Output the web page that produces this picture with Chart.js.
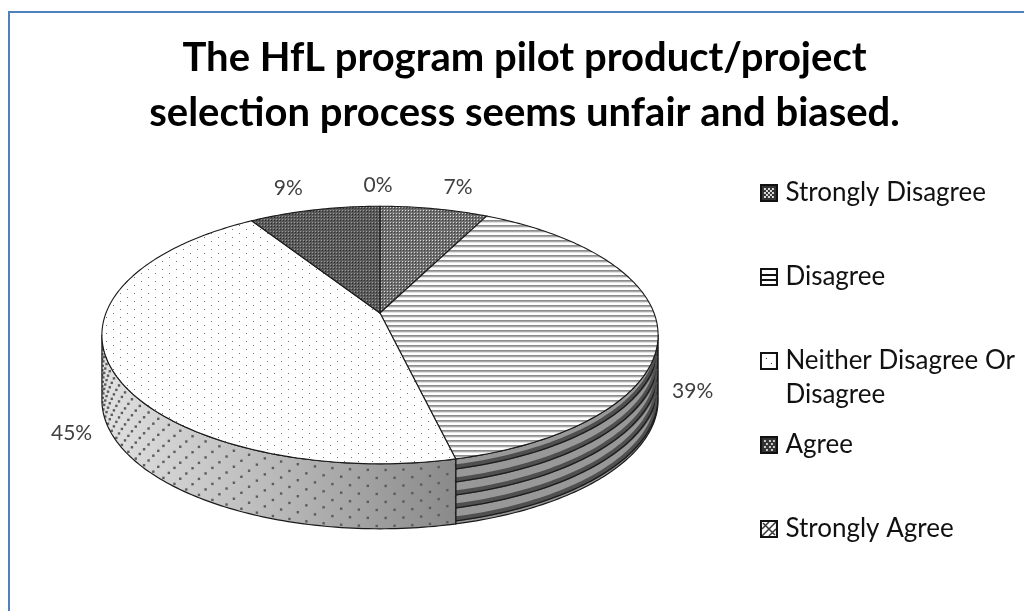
<!DOCTYPE html>
<html>
<head>
<meta charset="utf-8">
<style>
  html, body { margin: 0; background: #fff; overflow: hidden; width: 1024px; height: 611px; }
  #frame { position: absolute; left: 8px; top: 11px; width: 1100px; height: 700px; border: 2px solid #4f81bd; }
  #demandPie { position: absolute; left: 0; top: 0; filter: blur(0.35px); }
</style>
</head>
<body>
<div id="frame"></div>
<canvas id="demandPie" width="1048" height="691"></canvas>
<script src="https://cdn.jsdelivr.net/npm/chart.js@4"></script>
<script>
const titleLines = ['The HfL program pilot product/project', 'selection process seems unfair and biased.'];
const categories = ['Strongly Disagree', 'Disagree', 'Neither Disagree Or', 'Agree', 'Strongly Agree'];
const wrappedCategory = 'Disagree'; // second line of the third legend entry
const percents = [7.4, 38.9, 44.7, 9, 0];

// --- tilted disc: the reference is a 3D pie seen in perspective ---
const CX = 380, CY = 313, RX = 274, RY = 125, TILT = -0.171, DEPTH = 65;

function rim(angle) {
  const u = Math.cos(angle), v = Math.sin(angle);
  const d = 1 + TILT * v;
  return { x: CX + RX * u / d, y: CY + RY * v / d };
}

function tile(w, h, paint) {
  const c = document.createElement('canvas');
  c.width = w; c.height = h;
  paint(c.getContext('2d'));
  return c;
}

function dotsAt(g, list, color, size) {
  g.fillStyle = color;
  list.forEach(p => g.fillRect(p[0], p[1], size, size));
}

const checkTile = tile(3, 3, g => {
  g.fillStyle = '#6f6f6f'; g.fillRect(0, 0, 3, 3);
  dotsAt(g, [[0, 0]], '#d8d8d8', 1);
  dotsAt(g, [[1, 1]], '#3c3c3c', 1);
});
const darkTile = tile(3, 3, g => {
  g.fillStyle = '#5a5a5a'; g.fillRect(0, 0, 3, 3);
  dotsAt(g, [[0, 0]], '#9a9a9a', 1);
  dotsAt(g, [[1, 1]], '#2c2c2c', 1);
});
const stripeTile = tile(4, 5, g => {
  g.fillStyle = '#fff'; g.fillRect(0, 0, 4, 5);
  g.fillStyle = '#8c8c8c'; g.fillRect(0, 0, 4, 1);
  g.fillStyle = '#a8a8a8'; g.fillRect(0, 1, 4, 1);
  g.fillStyle = '#e2e2e2'; g.fillRect(0, 2, 4, 1);
});
const dotTile = tile(14, 8, g => {
  g.fillStyle = '#fff'; g.fillRect(0, 0, 14, 8);
  dotsAt(g, [[1, 1], [8, 5]], '#767676', 1);
});

const ctxHelper = document.createElement('canvas').getContext('2d');
const topFills = [
  ctxHelper.createPattern(checkTile, 'repeat'),
  ctxHelper.createPattern(stripeTile, 'repeat'),
  ctxHelper.createPattern(dotTile, 'repeat'),
  ctxHelper.createPattern(darkTile, 'repeat'),
  '#fff'
];

function swatch(paint) {
  return tile(18, 18, g => {
    g.fillStyle = '#fff'; g.fillRect(0, 0, 18, 18);
    paint(g);
    g.strokeStyle = '#111'; g.lineWidth = 2; g.strokeRect(1, 1, 16, 16);
  });
}

const legendIcons = [
  swatch(g => { g.fillStyle = '#333'; g.fillRect(0, 0, 18, 18); dotsAt(g, [[4,4],[8,4],[12,4],[6,6],[10,6],[4,8],[8,8],[12,8],[6,10],[10,10],[4,12],[8,12],[12,12]], '#ddd', 2); }),
  swatch(g => { g.fillStyle = '#111'; g.fillRect(2, 6, 14, 2); g.fillRect(2, 11, 14, 2); }),
  swatch(g => { dotsAt(g, [[6, 6], [11, 11]], '#333', 1); }),
  swatch(g => { g.fillStyle = '#333'; g.fillRect(0, 0, 18, 18); dotsAt(g, [[4,4],[9,4],[13,4],[6,7],[11,7],[4,10],[9,10],[13,10],[6,13],[11,13]], '#ccc', 2); }),
  swatch(g => { g.strokeStyle = '#333'; g.lineWidth = 1.5; g.beginPath(); g.moveTo(2, 16); g.lineTo(16, 2); g.moveTo(2, 9); g.lineTo(9, 2); g.moveTo(9, 16); g.lineTo(16, 9); g.moveTo(3, 3); g.lineTo(15, 15); g.stroke(); })
];

// slices keep the angles Chart.js computes, only the outline is projected
Chart.ArcElement.prototype.draw = function (ctx) {
  const { startAngle, endAngle } = this;
  if (endAngle - startAngle < 1e-4) return;
  ctx.save();
  ctx.beginPath();
  ctx.moveTo(CX, CY);
  const n = Math.ceil((endAngle - startAngle) * 60);
  for (let i = 0; i <= n; i++) {
    const p = rim(startAngle + (endAngle - startAngle) * i / n);
    ctx.lineTo(p.x, p.y);
  }
  ctx.closePath();
  ctx.fillStyle = this.options.backgroundColor;
  ctx.fill();
  ctx.strokeStyle = '#1a1a1a';
  ctx.lineWidth = 1.1;
  ctx.stroke();
  ctx.restore();
};

function wallPath(ctx, a0, a1) {
  const n = Math.ceil((a1 - a0) * 60);
  ctx.beginPath();
  for (let i = 0; i <= n; i++) {
    const p = rim(a0 + (a1 - a0) * i / n);
    ctx.lineTo(p.x, p.y);
  }
  for (let i = n; i >= 0; i--) {
    const p = rim(a0 + (a1 - a0) * i / n);
    ctx.lineTo(p.x, p.y + DEPTH);
  }
  ctx.closePath();
}

const wallFrom = 0.17, wallTo = Math.PI - 0.17;

const wallPlugin = {
  id: 'wall',
  beforeDatasetsDraw(chart) {
    const ctx = chart.ctx;
    chart.getDatasetMeta(0).data.forEach((arc, idx) => {
      const a0 = Math.max(arc.startAngle, wallFrom), a1 = Math.min(arc.endAngle, wallTo);
      if (a1 <= a0) return;
      ctx.save();
      wallPath(ctx, a0, a1);
      if (idx === 1) {
        ctx.fillStyle = '#989898';
        ctx.fill();
        ctx.clip();
        for (let off = 8; off < DEPTH; off += 13) {
          [['#505050', 5, 0], ['#1c1c1c', 1.3, 2]].forEach(([color, width, shift]) => {
            ctx.strokeStyle = color;
            ctx.lineWidth = width;
            ctx.beginPath();
            for (let a = a0; a <= a1 + 0.02; a += 0.02) {
              const p = rim(a);
              ctx.lineTo(p.x, p.y + off + shift);
            }
            ctx.stroke();
          });
        }
      } else {
        const grad = ctx.createLinearGradient(105, 0, 455, 0);
        grad.addColorStop(0, '#e0e0e0');
        grad.addColorStop(0.5, '#b8b8b8');
        grad.addColorStop(1, '#8a8a8a');
        ctx.fillStyle = grad;
        ctx.fill();
        ctx.clip();
        ctx.fillStyle = '#5c5c5c';
        for (let row = 0; row < 8; row++) {
          for (let a = a0 + (row % 2) * 0.027; a < a1; a += 0.054) {
            const p = rim(a);
            ctx.fillRect(p.x - 1, p.y + 5 + row * 8, 2.4, 2.4);
          }
        }
      }
      ctx.restore();
      ctx.save();
      wallPath(ctx, a0, a1);
      ctx.strokeStyle = '#1a1a1a';
      ctx.lineWidth = 1.2;
      ctx.stroke();
      ctx.restore();
    });
  },
  afterDatasetsDraw(chart) {
    const ctx = chart.ctx;
    // percentage labels sit just outside the rim
    const nudge = [[24, -21], [35, 63], [-38, 68], [-26, -22], [-2, -21]];
    ctx.save();
    ctx.font = '21px Lato';
    ctx.fillStyle = '#404040';
    ctx.textAlign = 'center';
    ctx.textBaseline = 'middle';
    chart.getDatasetMeta(0).data.forEach((arc, idx) => {
      const p = rim((arc.startAngle + arc.endAngle) / 2);
      ctx.fillText(Math.round(percents[idx]) + '%', p.x + nudge[idx][0], p.y + nudge[idx][1]);
    });
    ctx.restore();
  },
  afterDraw(chart) {
    const box = chart.legend.legendHitBoxes[2];
    const ctx = chart.ctx;
    ctx.save();
    ctx.font = '26px Lato';
    ctx.fillStyle = '#111';
    ctx.textBaseline = 'middle';
    ctx.fillText(wrappedCategory, box.left + 20, box.top + box.height / 2 + 34);
    ctx.restore();
  }
};

new Chart(document.getElementById('demandPie'), {
  type: 'pie',
  data: {
    labels: categories,
    datasets: [{ data: percents, backgroundColor: topFills, borderWidth: 0 }]
  },
  plugins: [wallPlugin],
  options: {
    responsive: false,
    animation: false,
    events: [],
    layout: { padding: { top: 31, left: 24, right: 23, bottom: 0 } },
    plugins: {
      tooltip: { enabled: false },
      title: {
        display: true,
        text: titleLines,
        color: '#000',
        font: { family: 'Lato', size: 40, weight: 'bold', lineHeight: 1.375 },
        padding: { top: 0, bottom: 10 }
      },
      legend: {
        position: 'right',
        align: 'center',
        labels: {
          usePointStyle: true,
          pointStyleWidth: 7,
          color: '#111',
          font: { family: 'Lato', size: 26 },
          padding: 58,
          generateLabels(chart) {
            return categories.map((name, i) => ({
              text: name,
              pointStyle: legendIcons[i],
              fontColor: '#111',
              lineWidth: 0,
              hidden: false,
              index: i
            }));
          }
        }
      }
    }
  }
});
</script>
</body>
</html>
